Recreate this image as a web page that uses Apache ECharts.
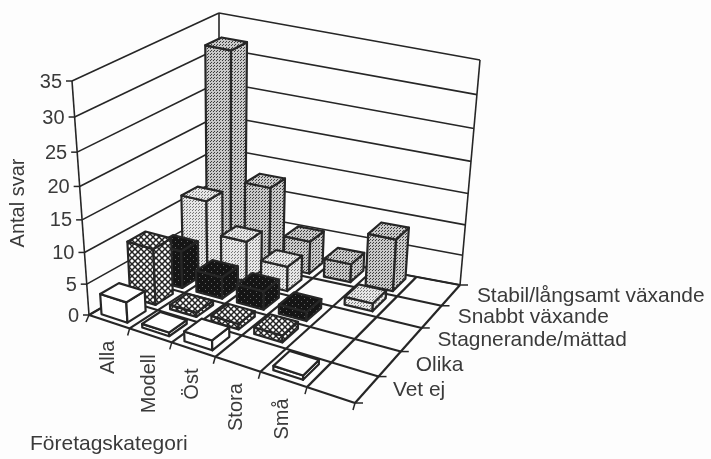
<!DOCTYPE html>
<html><head><meta charset="utf-8">
<style>html,body{margin:0;padding:0;background:#fdfdfd}#c{width:711px;height:459px}</style>
<script src="https://cdn.jsdelivr.net/npm/echarts@6/dist/echarts.min.js"></script>
</head><body><div id="c"></div>
<script>
var categories = ['Alla','Modell','Öst','Stora','Små',''];
var rows = ['Vet ej','Olika','Stagnerande/mättad','Snabbt växande','Stabil/långsamt växande'];
var valueTicks = [0,5,10,15,20,25,30,35];
var vetEj    = [3.3,0.6,1.6,0,0.7,0];
var olika    = [9,0.7,0.9,1.1,0,0];
var stagn    = [6,3.5,3,1.5,0,0];
var snabbt   = [11.5,6.5,4,0,1.3,0];
var stabil   = [32,12.6,5.3,3,8.5,0];
var seriesValues = [vetEj,olika,stagn,snabbt,stabil];
var axisTitleY = 'Antal svar', axisTitleX = 'Företagskategori';

// ---- the printed box: floor corners and the lift of each corner at the axis maximum
var A=[89,315],F=[355,403],R=[460,285],B=[219,240];
var liftA=[-17,-234],liftF=[9,-238],liftR=[20,-225],liftB=[0,-227];
function mix(a,f,r,b,u,v){return [0,1].map(function(i){return (1-u)*(1-v)*a[i]+u*(1-v)*f[i]+u*v*r[i]+(1-u)*v*b[i];});}
function P(u,v,w){
  var uu=u-0.1*u*(1-u),vv=v+0.15*v*(1-v),ww=w-0.09*w*(1-w);
  var p=mix(A,F,R,B,uu,vv),l=mix(liftA,liftF,liftR,liftB,uu,vv);
  return [p[0]+ww*l[0],p[1]+ww*l[1]];
}
// ---- fills
function tile(n,draw){var c=document.createElement('canvas');c.width=c.height=n;var x=c.getContext('2d');draw(x);return {image:c,repeat:'repeat'};}
var fills=[
 '#ffffff',
 tile(6,function(x){x.fillStyle='#fff';x.fillRect(0,0,6,6);x.fillStyle='#222';x.strokeStyle='#222';x.lineWidth=1.5;
   x.beginPath();x.moveTo(0,0);x.lineTo(6,6);x.moveTo(6,0);x.lineTo(0,6);x.stroke();}),
 tile(6,function(x){x.fillStyle='#151515';x.fillRect(0,0,6,6);x.fillStyle='#666';x.fillRect(1,1,1,1);x.fillRect(4,4,1,1);}),
 tile(3,function(x){x.fillStyle='#e6e6e6';x.fillRect(0,0,3,3);x.fillStyle='#777';x.fillRect(0,0,1,1);x.fillRect(1,2,1,1);}),
 tile(3,function(x){x.fillStyle='#c8c8c8';x.fillRect(0,0,3,3);x.fillStyle='#3c3c3c';x.fillRect(0,0,1,1);x.fillRect(1,2,1,1);})
];
var INK='#262626',TXT='#3a3a3a',FONT='"Liberation Sans",Arial,sans-serif';
function poly(p,fill,lw,z){return {type:'polygon',shape:{points:p},z2:z,style:{fill:fill,stroke:INK,lineWidth:lw,lineJoin:'round'}};}
function line(a,b,lw,z){return {type:'line',shape:{x1:a[0],y1:a[1],x2:b[0],y2:b[1]},z2:z,style:{stroke:INK,lineWidth:lw,fill:null}};}
function txt(s,x,y,size,align,rot,base){return {type:'text',x:x,y:y,rotation:rot||0,z2:1000,style:{text:s,x:0,y:0,fill:TXT,font:size+'px '+FONT,align:align,verticalAlign:base||'middle'}};}

var nC=categories.length,nR=rows.length,GAP=0.18;

var barData=[];
for(var r=nR-1;r>=0;r--){for(var c=0;c<nC;c++){ if(seriesValues[r][c]>0) barData.push([c,seriesValues[r][c],r]); }}

function fracW(params,api,val){var g=params.coordSys;var p=api.coord([0,val]);return (g.y+g.height-p[1])/g.height;}
function fracU(params,api,c){var g=params.coordSys;var p=api.coord([c,0]);return (p[0]-g.x)/g.width;}

function renderBar(params,api){
  var c=api.value(0),val=api.value(1),r=api.value(2);
  var uc=fracU(params,api,c),w=fracW(params,api,val);
  var du=(1-2*GAP)/(2*nC),dv=(1-2*GAP)/(2*nR),vc=(r+0.5)/nR;
  var u0=uc-du,u1=uc+du,v0=vc-dv,v1=vc+dv;
  var z=params.dataIndex*5+10;
  var fill=fills[r];
  return {type:'group',children:[
    poly([P(u0,v0,0),P(u1,v0,0),P(u1,v0,w),P(u0,v0,w)],fill,2.2,z),
    poly([P(u1,v0,0),P(u1,v1,0),P(u1,v1,w),P(u1,v0,w)],fill,2.2,z+1),
    poly([P(u0,v0,w),P(u1,v0,w),P(u1,v1,w),P(u0,v1,w)],fill,2.2,z+2)
  ]};
}
function renderWall(params,api){
  var t=api.value(1),w=fracW(params,api,t);
  var a=P(0,0,w),b=P(0,1,w),r=P(1,1,w);
  return {type:'group',children:[
    line([a[0]-6,a[1]],a,1.5,1),line(a,b,1.6,1),line(b,r,1.6,1),
    txt(String(t),a[0]-10,a[1]+1,20,'right')
  ]};
}
function renderFloor(params,api){
  var ch=[],i;
  for(i=0;i<=nC;i++){
    var u=i/nC,f=P(u,0,0);
    ch.push(line(P(u,1,0),f,2.2,2));
    ch.push(line(f,[f[0]+(i==0?-3:-2),f[1]+7],1.5,2));
  }
  for(i=0;i<=nR;i++){
    var v=i/nR,e=P(1,v,0);
    ch.push(line(P(0,v,0),e,2.2,2));
    ch.push(line(e,[e[0]+8,e[1]],1.5,2));
  }
  [[0,0],[0,1],[1,1]].forEach(function(q){ch.push(line(P(q[0],q[1],0),P(q[0],q[1],1),1.6,1));});
  ch.push(txt(axisTitleY,18,203,20,'center',Math.PI/2));
  ch.push(txt(axisTitleX,30,444,21,'left'));
  return {type:'group',children:ch};
}
function renderCat(params,api){
  var c=api.value(0),u=fracU(params,api,c),p=P(u,0,0);
  return txt(categories[c],p[0]-1,p[1]+19,20,'right',Math.PI/2);
}
function renderRow(params,api){
  var r=params.dataIndex,p=P(1,(r+0.5)/nR,0);
  return txt(rows[r],p[0]+26,p[1]+1,20.9,'left');
}

var chart=echarts.init(document.getElementById('c'));
chart.setOption({
  animation:false,backgroundColor:'#fdfdfd',
  grid:{left:0,top:0,width:711,height:459},
  xAxis:{type:'category',data:categories,show:false},
  yAxis:{type:'value',min:0,max:35,interval:5,show:false},
  series:[
    {type:'custom',z:1,renderItem:renderFloor,data:[[0,0]],silent:true},
    {type:'custom',z:2,renderItem:renderWall,data:valueTicks.map(function(t){return [0,t];}),silent:true},
    {type:'custom',z:3,renderItem:renderBar,data:barData,dimensions:['c','v','r'],encode:{x:0,y:1},silent:true},
    {type:'custom',z:4,renderItem:renderCat,data:categories.map(function(n,i){return [i,0];}),silent:true},
    {type:'custom',z:4,renderItem:renderRow,data:rows.map(function(n,i){return [0,0];}),silent:true}
  ]
});
</script></body></html>
